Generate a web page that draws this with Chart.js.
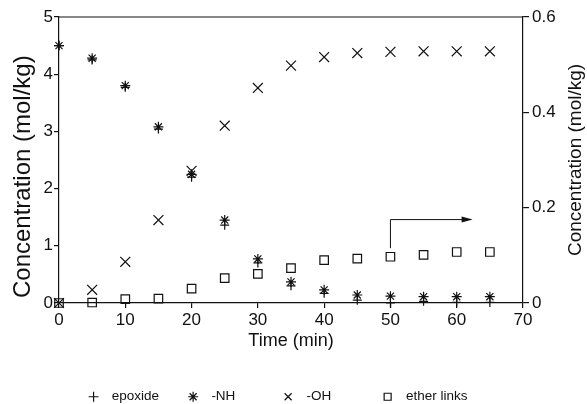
<!DOCTYPE html>
<html>
<head>
<meta charset="utf-8">
<script src="https://cdn.jsdelivr.net/npm/chart.js@4.4.1/dist/chart.umd.min.js"></script>
<style>
  html, body { margin: 0; padding: 0; background: #fff; }
  #wrap { width: 587px; height: 404px; }
</style>
</head>
<body>
<div id="wrap"><canvas id="chart"></canvas></div>
<script>
// time in minutes
const times = [0, 5, 10, 15, 20, 25, 30, 35, 40, 45, 50, 55, 60, 65];
// left axis (mol/kg)
const epoxide = [4.5, 4.25, 3.77, 3.04, 2.2, 1.36, 0.7, 0.3, 0.17, 0.05, 0.0, 0.03, 0.01, 0.01];
const nh = [4.5, 4.28, 3.8, 3.08, 2.25, 1.45, 0.77, 0.37, 0.23, 0.14, 0.12, 0.11, 0.11, 0.11];
const oh = [0, 0.23, 0.72, 1.45, 2.31, 3.1, 3.76, 4.15, 4.3, 4.37, 4.39, 4.4, 4.4, 4.4];
// right axis (mol/kg)
const ether = [0, 0.001, 0.008, 0.009, 0.03, 0.052, 0.061, 0.073, 0.09, 0.093, 0.097, 0.101, 0.107, 0.107];

// arrow pointing the ether series to the right axis (time, right-axis value)
const arrowPath = [[50, 0.115], [50, 0.175], [62.4, 0.175]];

const ink = '#111';
const font = 'Liberation Sans, Arial, sans-serif';

const pts = vals => vals.map((v, i) => ({ x: times[i], y: v }));

function series(label, vals, style, radius, axis) {
    return {
        label: label,
        data: pts(vals),
        yAxisID: axis,
        pointStyle: style,
        pointRadius: radius,
        pointHoverRadius: radius,
        pointBorderWidth: 1.2,
        borderWidth: 1.2,
        borderColor: ink,
        pointBorderColor: ink,
        backgroundColor: 'rgba(0,0,0,0)',
        pointBackgroundColor: 'rgba(0,0,0,0)',
        showLine: false,
        clip: false
    };
}

const frame = {
    id: 'frame',
    afterDraw(chart) {
        const { ctx, chartArea: a, scales } = chart;
        ctx.save();
        ctx.strokeStyle = ink;
        ctx.fillStyle = ink;
        ctx.lineWidth = 1.2;
        // top border
        ctx.beginPath();
        ctx.moveTo(a.left, a.top);
        ctx.lineTo(a.right, a.top);
        ctx.stroke();

        // arrow
        const p = arrowPath.map(([t, v]) => [scales.x.getPixelForValue(t), scales.y1.getPixelForValue(v)]);
        ctx.lineWidth = 1;
        ctx.beginPath();
        ctx.moveTo(p[0][0], p[0][1]);
        for (let i = 1; i < p.length; i++) ctx.lineTo(p[i][0] - (i === p.length - 1 ? 8 : 0), p[i][1]);
        ctx.stroke();
        const [ex, ey] = p[p.length - 1];
        ctx.beginPath();
        ctx.moveTo(ex, ey);
        ctx.lineTo(ex - 11, ey - 3);
        ctx.lineTo(ex - 11, ey + 3);
        ctx.closePath();
        ctx.fill();

        // right axis title, reading bottom to top
        const r = scales.y1;
        ctx.translate(576, (r.top + r.bottom) / 2);
        ctx.rotate(-Math.PI / 2);
        ctx.font = '19px ' + font;
        ctx.textAlign = 'center';
        ctx.textBaseline = 'middle';
        ctx.fillText('Concentration (mol/kg)', 0, 0);
        ctx.restore();
    }
};

const axisGrid = len => ({ display: true, drawOnChartArea: false, drawTicks: true, tickLength: len, color: ink, lineWidth: 1.2 });
const axisBorder = { display: true, color: ink, width: 1.2 };

new Chart(document.getElementById('chart'), {
    type: 'scatter',
    data: {
        datasets: [
            series('  epoxide        ', epoxide, 'cross', 4.5, 'y'),
            series('  -NH             ', nh, 'star', 5, 'y'),
            series('  -OH              ', oh, 'crossRot', 7, 'y'),
            series('  ether links        ', ether, 'rect', 6, 'y1')
        ]
    },
    options: {
        responsive: true,
        maintainAspectRatio: false,
        animation: false,
        layout: { padding: { top: 17, left: 0, right: 0, bottom: 0 } },
        plugins: {
            tooltip: { enabled: false },
            legend: {
                position: 'bottom',
                maxHeight: 14,
                labels: {
                    usePointStyle: true,
                    boxWidth: 8,
                    boxHeight: 7,
                    padding: 0,
                    color: ink,
                    font: { family: font, size: 13.5 }
                }
            }
        },
        scales: {
            x: {
                type: 'linear',
                min: 0,
                max: 70,
                ticks: { stepSize: 10, color: ink, padding: 2, font: { family: font, size: 17 } },
                grid: axisGrid(5),
                border: axisBorder,
                title: {
                    display: true,
                    text: 'Time (min)',
                    color: ink,
                    font: { family: font, size: 18, lineHeight: 1 },
                    padding: { top: 0, bottom: 40 }
                },
                afterFit(s) { s.height = 87; }
            },
            y: {
                position: 'left',
                min: 0,
                max: 5,
                ticks: { stepSize: 1, color: ink, padding: 1, font: { family: font, size: 17 } },
                grid: axisGrid(5),
                border: axisBorder,
                title: {
                    display: true,
                    text: 'Concentration (mol/kg)     ',
                    color: ink,
                    font: { family: font, size: 24, lineHeight: 1 },
                    padding: { top: 11.5, bottom: 0 }
                },
                afterFit(s) { s.width = 59; }
            },
            y1: {
                position: 'right',
                min: 0,
                max: 0.6,
                ticks: { stepSize: 0.2, color: ink, padding: 3, font: { family: font, size: 17 } },
                grid: axisGrid(6),
                border: axisBorder,
                afterFit(s) { s.width = 64; }
            }
        }
    },
    plugins: [frame]
});
</script>
</body>
</html>
